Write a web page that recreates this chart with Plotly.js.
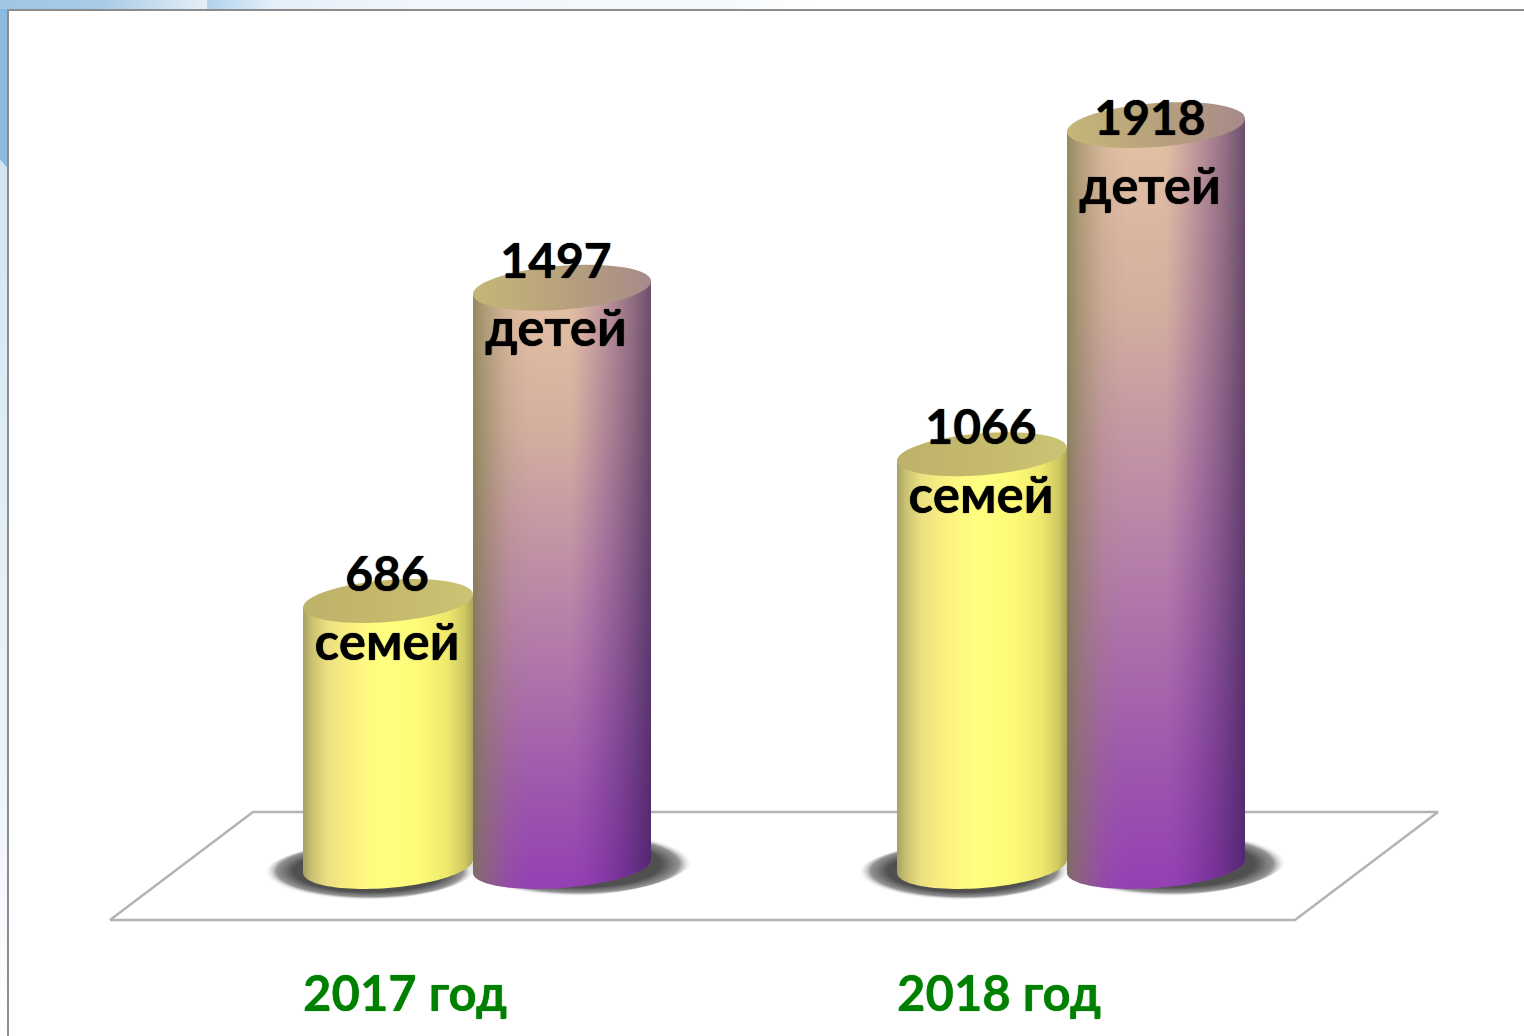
<!DOCTYPE html>
<html><head><meta charset="utf-8">
<script src="https://cdn.plot.ly/plotly-3.0.0.min.js"></script>
<style>html,body{margin:0;padding:0;background:#fff;overflow:hidden}#c{width:1524px;height:1036px}</style>
</head><body><div id="c"></div>
<script>
// Data
const years = ['2017 год', '2018 год'];
const families = [686, 1066];
const children = [1497, 1918];
const familiesUnit = 'семей';
const childrenUnit = 'детей';

// Layout scale: one group = 594 px, one unit = .3863 px
const W = 1524, H = 1036, groupPx = 594, x0Px = 405, unitPx = 0.3863, basePx = 866;
const xd = p => (p - x0Px) / groupPx;
const yd = p => (basePx - p) / unitPx;
const pxY = v => basePx - v * unitPx;
const offYellow = -17 / groupPx, offPurple = 157 / groupPx;
const rY = 85, rP = 89, ry = 22, tilt = -6.5;

const traces = [];
function poly(pxPts, style) {
  traces.push(Object.assign({type:'scatter', mode:'none', fill:'toself', hoverinfo:'skip', showlegend:false,
    x: pxPts.map(p => xd(p[0])), y: pxPts.map(p => yd(p[1]))}, style));
}
function ellipse(cx, cy, rx, rv, tl) {
  const out = [];
  for (let i = 0; i <= 72; i++) { const t = i / 72 * 2 * Math.PI, c = Math.cos(t);
    out.push([cx + rx * c, cy + rv * Math.sin(t) + tl * c]); }
  return out;
}
function body(cx, r, topPx) {
  const out = [[cx - r, topPx - tilt]];
  for (let i = 0; i <= 48; i++) { const t = Math.PI - i / 48 * Math.PI, c = Math.cos(t);
    out.push([cx + r * c, basePx + ry * Math.sin(t) + tilt * c]); }
  out.push([cx + r, topPx + tilt]);
  out.push(out[0]);
  return out;
}
const shadowScale = [[0,'rgba(80,80,80,1)'],[0.72,'rgba(80,80,80,1)'],[0.88,'rgba(110,110,110,0.75)'],[1,'rgba(255,255,255,0)']];
const yellowSide = [[0,'#a5a065'],[0.05,'#c9c070'],[0.14,'#ecdf82'],[0.3,'#fdf280'],[0.45,'#ffff80'],[0.68,'#fdfb78'],[0.85,'#eee86c'],[0.95,'#cfc962'],[1,'#aaa65a']];
const yellowCap = [[0,'#bdb26a'],[0.5,'#c6b96c'],[1,'#c9c474']];
const purpleDown = [[0,'#9440b4'],[0.15,'#9c55ad'],[0.45,'#b882a8'],[0.75,'#d3ae9f'],[1,'#e4c2a4']];
const purpleEdge = [[0,'rgba(120,120,70,0.75)'],[0.06,'rgba(130,125,80,0.55)'],[0.2,'rgba(140,130,90,0.14)'],[0.33,'rgba(150,130,120,0)'],[0.55,'rgba(120,50,160,0)'],[0.72,'rgba(90,30,130,0.25)'],[0.9,'rgba(60,25,95,0.5)'],[1,'rgba(50,25,80,0.68)']];
const purpleCap = [[0,'#c6b678'],[0.5,'#b8a27c'],[1,'#a68a8a']];

// Ground plane
traces.push({type:'scatter', mode:'lines', hoverinfo:'skip', showlegend:false,
  x:[110,1295,1438,253,110].map(xd), y:[920,920,812,812,920].map(yd), line:{color:'#b4b4b4', width:2.5}});

years.forEach((yr, i) => {
  const gc = x0Px + i * groupPx;
  const cy = gc + offYellow * groupPx, ty = pxY(families[i]);
  const cp = gc + offPurple * groupPx, tp = pxY(children[i]);
  // Soft shadows under both cylinders
  poly(ellipse(cy - 18, 871, 106, 29, -4), {fillgradient:{type:'radial', colorscale:shadowScale}});
  poly(ellipse(cp + 17, 864, 114, 32, -6), {fillgradient:{type:'radial', colorscale:shadowScale}});
  // Families cylinder
  poly(body(cy, rY, ty), {fillgradient:{type:'horizontal', colorscale:yellowSide}});
  poly(ellipse(cy, ty, rY, 21, tilt), {fillgradient:{type:'horizontal', colorscale:yellowCap}});
  // Children cylinder
  poly(body(cp, rP, tp), {fillgradient:{type:'vertical', colorscale:purpleDown}});
  poly(body(cp, rP, tp), {fillgradient:{type:'horizontal', colorscale:purpleEdge}});
  poly(ellipse(cp, tp, rP, 22, tilt), {fillgradient:{type:'horizontal', colorscale:purpleCap}});
});

// Value labels
const fontFamily = 'Lato, "Open Sans", sans-serif', fat = '0 0 1px #000';
const labelXs = [...years.map((_, i) => i - 18 / groupPx), ...years.map((_, i) => i + 151 / groupPx)];
const all = [...families, ...children];
const lineTop = v => Math.max(pxY(v) - 26, 119) + 4;
traces.push({type:'scatter', mode:'text', hoverinfo:'skip', showlegend:false, cliponaxis:false,
  x: labelXs, y: all.map(v => yd(lineTop(v))), text: all.map(String), textposition:'middle center',
  textfont:{family:fontFamily, size:48, color:'#000', weight:700, shadow:fat}});
traces.push({type:'scatter', mode:'text', hoverinfo:'skip', showlegend:false, cliponaxis:false,
  x: labelXs, y: all.map(v => yd(lineTop(v) + 68)),
  text: [...families.map(() => familiesUnit), ...children.map(() => childrenUnit)], textposition:'middle center',
  textfont:{family:fontFamily, size:51, color:'#000', weight:700, shadow:fat}});

// Slide background edge
poly([[0,0],[207,0],[207,9],[0,9],[0,0]], {fillgradient:{type:'horizontal', colorscale:[[0,'#9fc6e4'],[0.5,'#a9cce8'],[1,'#e4eff8']]}});
poly([[207,0],[W,0],[W,9],[207,9],[207,0]], {fillgradient:{type:'horizontal', colorscale:[[0,'#b2d3ec'],[0.05,'#e4eff9'],[0.15,'#f0f6fc'],[0.4,'#f6fafd'],[0.46,'#ffffff'],[1,'#ffffff']]}});
poly([[0,9],[7,9],[7,168],[0,160],[0,9]], {fillcolor:'#8dbbdf'});
poly([[0,160],[7,168],[7,H],[0,H],[0,160]], {fillgradient:{type:'vertical', colorscale:[[0,'#ffffff'],[0.12,'#f8fbfe'],[0.3,'#eef3fb'],[0.65,'#e0edf6'],[1,'#d3e4f1']]}});
traces.push({type:'scatter', mode:'lines', hoverinfo:'skip', showlegend:false,
  x:[8,8,W].map(xd), y:[H,10,10].map(yd), line:{color:'#8c8c8c', width:2}});

const layout = {
  width:W, height:H, margin:{l:0,r:0,t:0,b:0}, paper_bgcolor:'#fff', plot_bgcolor:'#fff', showlegend:false,
  xaxis:{range:[xd(0), xd(W)], tickvals:years.map((_, i) => i), ticktext:years, anchor:'free', position:(H-961)/H,
    showgrid:false, zeroline:false, showline:false, ticks:'',
    tickfont:{family:fontFamily, size:49, color:'#008000', weight:700, shadow:'0 0 1px #008000'}},
  yaxis:{range:[yd(H), yd(0)], showgrid:false, zeroline:false, showline:false, showticklabels:false, ticks:''}
};
Plotly.newPlot('c', traces, layout, {displayModeBar:false, staticPlot:true});
</script></body></html>
